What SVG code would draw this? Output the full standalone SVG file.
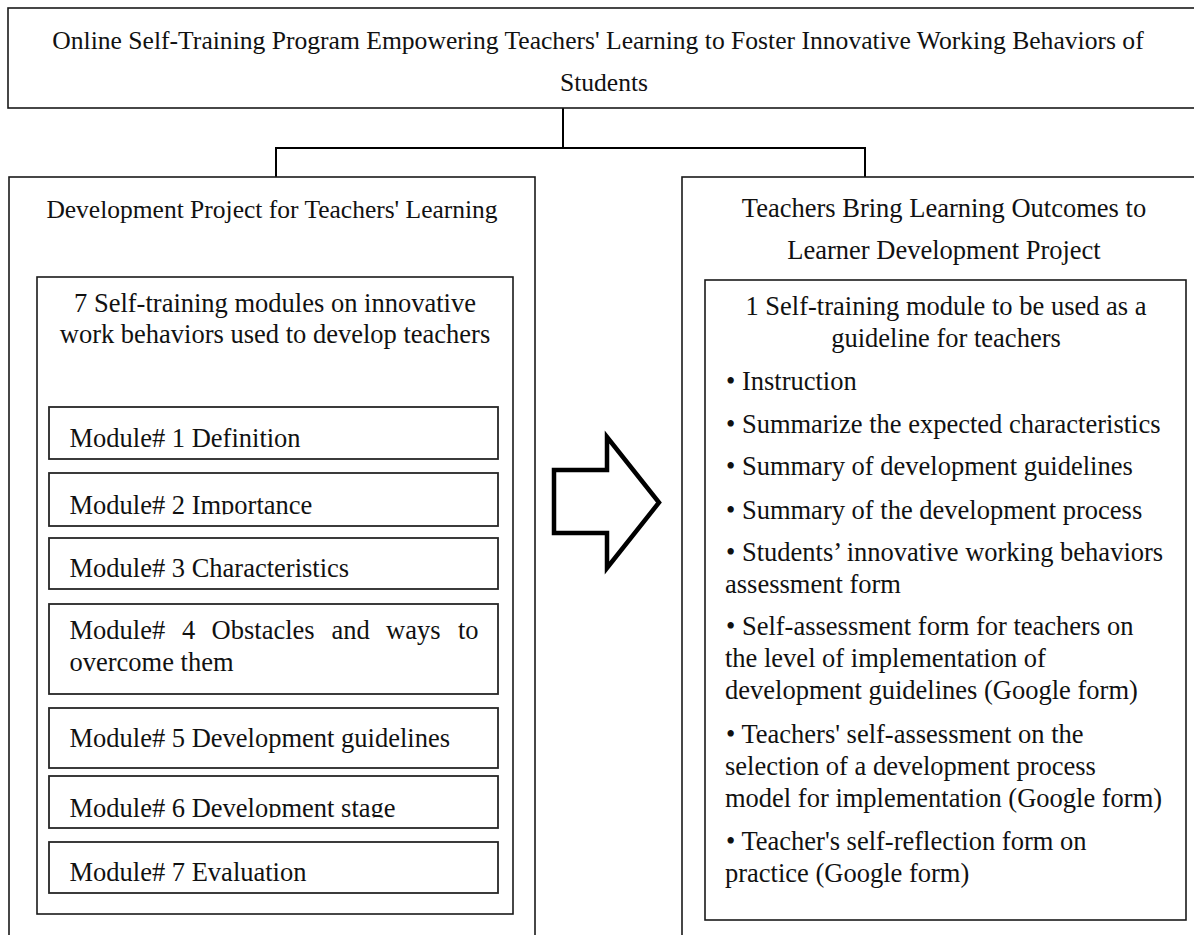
<svg xmlns="http://www.w3.org/2000/svg" width="1194" height="935" viewBox="0 0 1194 935">
  <style>
    .box { fill: #ffffff; stroke: #1a1a1a; stroke-width: 1.6; }
    .mod { fill: #ffffff; stroke: #262626; stroke-width: 1.8; }
    .wire { fill: none; stroke: #000000; stroke-width: 2; }
    .t { font-family: "Liberation Serif", "Times New Roman", serif; fill: #111111; }
    .title { font-size: 25.6px; }
    .head { font-size: 25.5px; }
    .body { font-size: 26.5px; }
    .mid { text-anchor: middle; }
  </style>
  <defs>
    <clipPath id="clip-m2"><rect x="49" y="473" width="449" height="41.5"/></clipPath>
    <clipPath id="clip-m6"><rect x="49" y="776" width="449" height="41.5"/></clipPath>
  </defs>

  <rect width="1194" height="935" fill="#ffffff"/>

  <!-- connectors -->
  <g id="connectors">
    <path class="wire" d="M563 108 V148"/>
    <path class="wire" d="M276 177 V148 H865 V177"/>
    <path d="M554 470 H607 V437 L659 502.5 L607 568 V533 H554 Z" fill="#ffffff" stroke="#000000" stroke-width="4.5" stroke-linejoin="miter"/>
  </g>

  <!-- program title -->
  <g id="program">
    <rect class="box" x="8" y="8" width="1200" height="100"/>
    <text class="t title mid" x="598" y="49">Online Self-Training Program Empowering Teachers' Learning to Foster Innovative Working Behaviors of</text>
    <text class="t title mid" x="604" y="91">Students</text>
  </g>

  <!-- left branch -->
  <g id="teacher-project">
    <rect class="box" x="9" y="177" width="526" height="770"/>
    <text class="t head mid" x="272" y="218">Development Project for Teachers' Learning</text>
  </g>

  <g id="modules-set">
    <rect class="box" x="37" y="277" width="476" height="637"/>
    <text class="t body mid" x="275" y="312">7 Self-training modules on innovative</text>
    <text class="t body mid" x="275" y="343">work behaviors used to develop teachers</text>
  </g>

  <g id="module-1">
    <rect class="mod" x="49" y="407" width="449" height="52"/>
    <text class="t body" x="69.5" y="447">Module# 1 Definition</text>
  </g>
  <g id="module-2">
    <rect class="mod" x="49" y="473" width="449" height="53"/>
    <text class="t body" x="69.5" y="514" clip-path="url(#clip-m2)">Module# 2 Importance</text>
  </g>
  <g id="module-3">
    <rect class="mod" x="49" y="538" width="449" height="51"/>
    <text class="t body" x="69.5" y="577">Module# 3 Characteristics</text>
  </g>
  <g id="module-4">
    <rect class="mod" x="49" y="604" width="449" height="90"/>
    <text class="t body" y="639"><tspan x="69.5">Module#</tspan><tspan x="182">4</tspan><tspan x="211.6">Obstacles</tspan><tspan x="331.6">and</tspan><tspan x="386">ways</tspan><tspan x="458">to</tspan></text>
    <text class="t body" x="69.5" y="671">overcome them</text>
  </g>
  <g id="module-5">
    <rect class="mod" x="49" y="708" width="449" height="60"/>
    <text class="t body" x="69.5" y="747">Module# 5 Development guidelines</text>
  </g>
  <g id="module-6">
    <rect class="mod" x="49" y="776" width="449" height="52"/>
    <text class="t body" x="69.5" y="817" clip-path="url(#clip-m6)">Module# 6 Development stage</text>
  </g>
  <g id="module-7">
    <rect class="mod" x="49" y="842" width="449" height="51"/>
    <text class="t body" x="69.5" y="881">Module# 7 Evaluation</text>
  </g>

  <!-- right branch -->
  <g id="learner-project">
    <rect class="box" x="682" y="177" width="530" height="770"/>
    <text class="t body mid" x="944" y="217">Teachers Bring Learning Outcomes to</text>
    <text class="t body mid" x="944" y="259">Learner Development Project</text>
  </g>

  <g id="guideline-module">
    <rect class="box" x="705" y="280" width="481" height="640"/>
    <text class="t body mid" x="946" y="315">1 Self-training module to be used as a</text>
    <text class="t body mid" x="946" y="347">guideline for teachers</text>
    <text class="t body" x="726" y="390">• Instruction</text>
    <text class="t body" x="726" y="433">• Summarize the expected characteristics</text>
    <text class="t body" x="726" y="475">• Summary of development guidelines</text>
    <text class="t body" x="726" y="519">• Summary of the development process</text>
    <text class="t body" x="726" y="561">• Students’ innovative working behaviors</text>
    <text class="t body" x="725" y="593">assessment form</text>
    <text class="t body" x="726" y="635">• Self-assessment form for teachers on</text>
    <text class="t body" x="725" y="667">the level of implementation of</text>
    <text class="t body" x="725" y="699">development guidelines (Google form)</text>
    <text class="t body" x="726" y="743">• Teachers' self-assessment on the</text>
    <text class="t body" x="725" y="775">selection of a development process</text>
    <text class="t body" x="725" y="807">model for implementation (Google form)</text>
    <text class="t body" x="726" y="850">• Teacher's self-reflection form on</text>
    <text class="t body" x="725" y="882">practice (Google form)</text>
  </g>
</svg>
